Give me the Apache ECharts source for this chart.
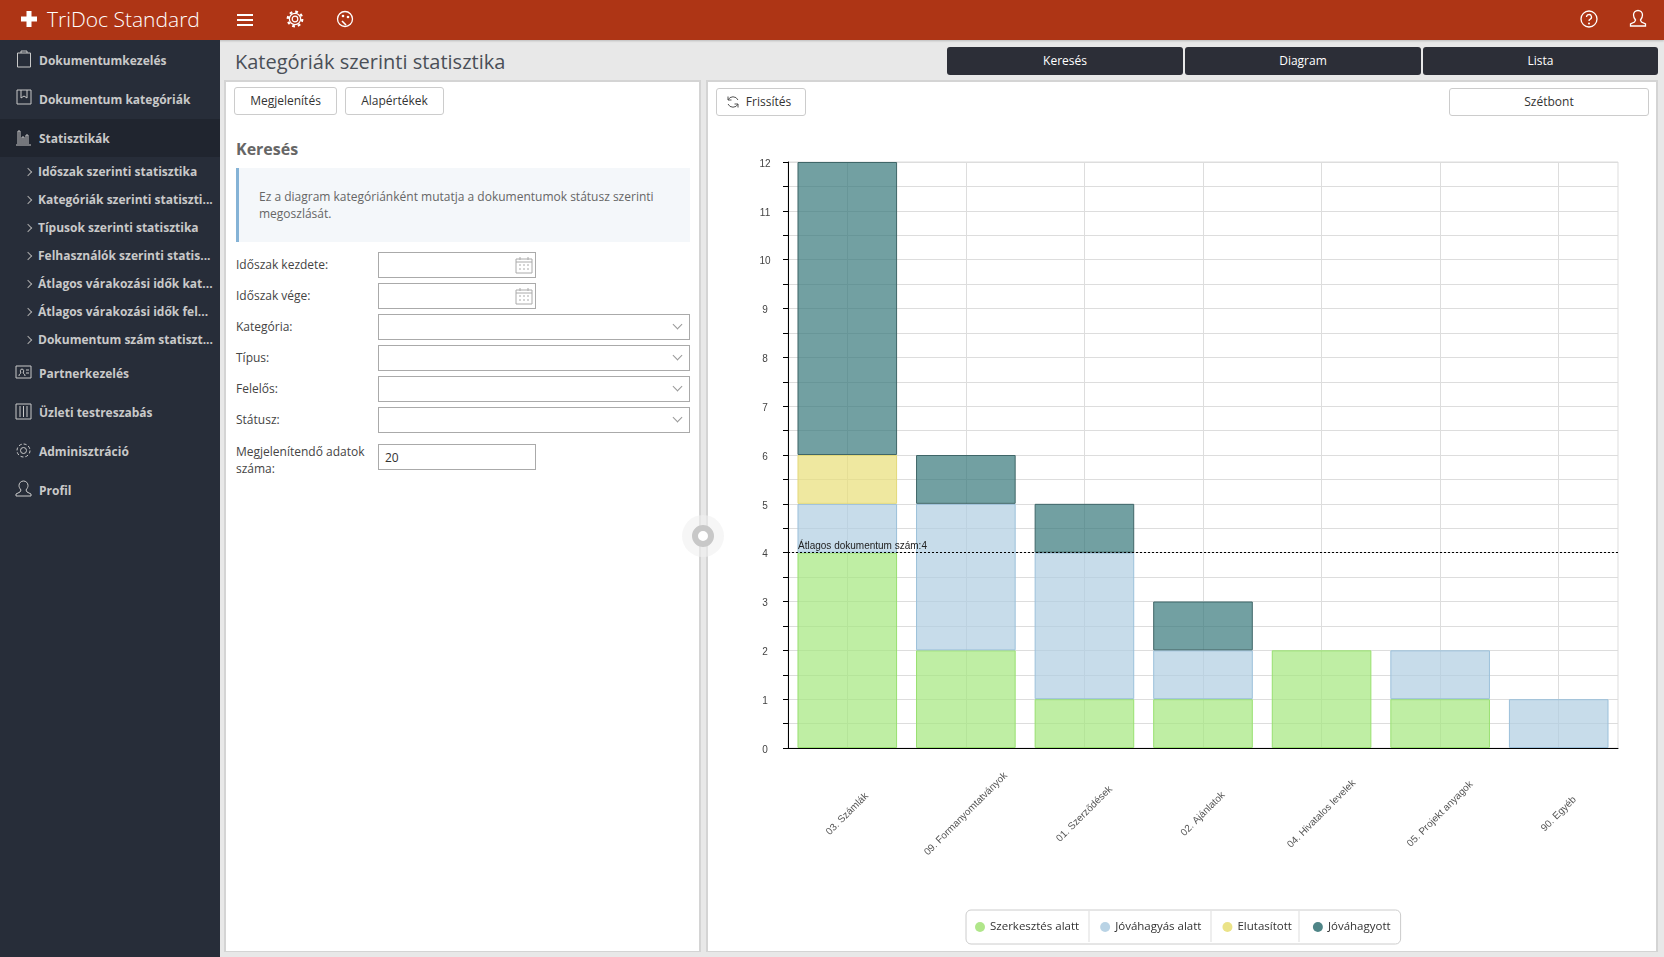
<!DOCTYPE html>
<html lang="hu">
<head>
<meta charset="utf-8">
<title>TriDoc Standard</title>
<script src="https://cdn.jsdelivr.net/npm/echarts@6/dist/echarts.min.js"></script>
<style>
  html, body { margin: 0; padding: 0; width: 1664px; height: 957px; overflow: hidden; background: #e8e8e8; font-family: "Open Sans", sans-serif; color: #444; }
  .abs, .nav, .sub, .label, .input, .btn, .tab { position: absolute; box-sizing: border-box; }
  #header { position: absolute; left: 0; top: 0; width: 1664px; height: 40px; background: #ae3515; box-shadow: 0 1px 2px rgba(0,0,0,.2); }
  #brand { position: absolute; left: 47px; top: 3px; font-size: 21px; line-height: 32px; color: #fff; font-weight: 300; }
  #side { position: absolute; left: 0; top: 40px; width: 220px; height: 917px; background: #272d39; }
  #activeBand { position: absolute; left: 0; top: 119px; width: 220px; height: 38px; background: #20252f; }
  .nav { left: 39px; font-size: 12px; font-weight: 700; line-height: 18px; color: #c9c9c9; white-space: nowrap; }
  .sub { left: 38px; font-size: 12px; font-weight: 700; line-height: 18px; color: #c9c9c9; white-space: nowrap; }
  .sub::before { content: ""; position: absolute; left: -13px; top: 6px; width: 5px; height: 5px; border-top: 1px solid #aaa; border-right: 1px solid #aaa; transform: rotate(45deg); }
  #title { position: absolute; left: 235px; top: 46px; font-size: 20px; line-height: 32px; color: #4a4f57; }
  .tab { top: 47px; height: 28px; width: 236px; background: #2c2e37; border-radius: 3px; color: #fff; font-size: 12px; line-height: 28px; text-align: center; }
  .panel { position: absolute; top: 80px; height: 872px; background: #fff; box-sizing: border-box; border: 2px solid #d4d4d4; border-bottom-width: 1px; }
  .btn { height: 28px; background: #fff; border: 1px solid #ccc; border-radius: 3px; font-size: 12px; line-height: 26px; text-align: center; color: #333; }
  #keres { position: absolute; left: 236px; top: 138px; font-size: 16px; line-height: 22px; font-weight: 700; color: #666; }
  #info { position: absolute; left: 236px; top: 168px; width: 454px; height: 74px; box-sizing: border-box; background: #f4f7fa; border-left: 3px solid #85b3d6; padding: 20px 20px 0 20px; font-size: 12px; line-height: 17px; color: #666; }
  .label { left: 236px; width: 136px; font-size: 12px; line-height: 17px; color: #444; }
  .input { left: 378px; height: 26px; background: #fff; border: 1px solid #aaa; font-size: 12px; line-height: 24px; padding-left: 7px; color: #333; }
  .input.short { width: 158px; }
  .input.long { width: 312px; }
  .cal { position: absolute; right: 2px; top: 3px; }
  .chev { position: absolute; right: 8px; top: 6px; width: 6px; height: 6px; border-right: 1px solid #999; border-bottom: 1px solid #999; transform: rotate(45deg); }
  svg { position: absolute; fill: none; }
  #chart { position: absolute; left: 709px; top: 83px; width: 947px; height: 867px; }
  #knobHalo { position: absolute; left: 682px; top: 515px; width: 42px; height: 42px; border-radius: 50%; background: rgba(240,240,240,.6); }
  #knob { position: absolute; left: 692px; top: 525px; width: 22px; height: 22px; box-sizing: border-box; border-radius: 50%; background: #fff; border: 6px solid #c8c8c8; }
</style>
</head>
<body>
<div id="header">
  <svg style="left:20px;top:10px" width="18" height="18"><path d="M9 1v16M1 9h16" stroke="#fff" stroke-width="5"/></svg>
  <div id="brand">TriDoc Standard</div>
  <svg style="left:237px;top:12px" width="16" height="16"><path d="M0 3h16M0 8h16M0 13h16" stroke="#fff" stroke-width="2"/></svg>
  <svg style="left:286px;top:10px" width="18" height="18"><circle cx="9" cy="9" r="2.800" stroke="#fff" stroke-width="1.200"/><circle cx="9" cy="9" r="5.600" stroke="#fff" stroke-width="1.200"/><circle cx="9" cy="9" r="7.300" stroke="#fff" stroke-width="2.200" stroke-dasharray="2.800 2.930"/></svg>
  <svg style="left:336px;top:10px" width="18" height="18"><circle cx="9" cy="9" r="7.500" stroke="#fff" stroke-width="1.300"/><circle cx="7" cy="6" r="1.300" fill="#fff"/><circle cx="12" cy="7" r="1.300" fill="#fff"/><path d="M6 11l4 4" stroke="#fff" stroke-width="1.600"/></svg>
  <svg style="left:1580px;top:10px" width="18" height="18"><circle cx="9" cy="9" r="8" stroke="#fff" stroke-width="1.300"/><path d="M6.500 7a2.500 2.500 0 1 1 3.500 2.300c-.7.3-1 .8-1 1.700" stroke="#fff" stroke-width="1.300"/><circle cx="9" cy="13.500" r="1" fill="#fff"/></svg>
  <svg style="left:1629px;top:9px" width="18" height="20"><path d="M6.500 11c-1.500-2-2-3.500-2-5a4.500 4.500 0 0 1 9 0c0 1.500-.5 3-2 5l1 2 4 2v2H1.500v-2l4-2z" stroke="#fff" stroke-width="1.300"/></svg>
</div>

<div id="side"></div>
<div id="activeBand"></div>
<svg style="left:16px;top:50px" width="16" height="18"><path d="M1.500 3h13v14h-13zM5 3V1h6v2" stroke="#c9c9c9"/></svg>
<div class="nav" style="top:52px">Dokumentumkezelés</div>
<svg style="left:16px;top:89px" width="16" height="16"><path d="M1 1h14v14H1zM5 1v8l3-2 3 2V1" stroke="#c9c9c9"/></svg>
<div class="nav" style="top:91px">Dokumentum kategóriák</div>
<svg style="left:15px;top:130px" width="17" height="16"><path d="M1 15h15M3 14V1h2v13M7 14V7h2v7M11 14V5h2v9" stroke="#c9c9c9"/></svg>
<div class="nav" style="top:130px">Statisztikák</div>
<div class="sub" style="top:163px">Időszak szerinti statisztika</div>
<div class="sub" style="top:191px">Kategóriák szerinti statiszti...</div>
<div class="sub" style="top:219px">Típusok szerinti statisztika</div>
<div class="sub" style="top:247px">Felhasználók szerinti statis...</div>
<div class="sub" style="top:275px">Átlagos várakozási idők kat...</div>
<div class="sub" style="top:303px">Átlagos várakozási idők fel...</div>
<div class="sub" style="top:331px">Dokumentum szám statiszt...</div>
<svg style="left:15px;top:365px" width="17" height="14"><path d="M1 1h15v12H1zM4 11c0-2 1-2 2-3-1-1-1-4 1-4s2 3 1 4c1 1 2 1 2 3M11 5h3M11 8h3" stroke="#c9c9c9"/></svg>
<div class="nav" style="top:365px">Partnerkezelés</div>
<svg style="left:15px;top:403px" width="17" height="17"><path d="M1 1h15v15H1zM5 3v11M8.500 3v11M12 3v11" stroke="#c9c9c9"/></svg>
<div class="nav" style="top:404px">Üzleti testreszabás</div>
<svg style="left:15px;top:442px" width="17" height="17"><circle cx="8.500" cy="8.500" r="3" stroke="#c9c9c9"/><circle cx="8.500" cy="8.500" r="6.500" stroke="#c9c9c9" stroke-dasharray="3 2"/></svg>
<div class="nav" style="top:443px">Adminisztráció</div>
<svg style="left:15px;top:480px" width="17" height="18"><path d="M6 10c-1.500-2-2-3-2-4.500a4.500 4.500 0 0 1 9 0c0 1.500-.5 2.500-2 4.500l1 2 4 2v2H1v-2l4-2z" stroke="#c9c9c9"/></svg>
<div class="nav" style="top:482px">Profil</div>

<div id="title">Kategóriák szerinti statisztika</div>
<div class="tab" style="left:947px">Keresés</div>
<div class="tab" style="left:1185px">Diagram</div>
<div class="tab" style="left:1423px;width:235px">Lista</div>

<div class="panel" style="left:224px;width:477px"></div>
<div class="btn" style="left:234px;top:87px;width:103px">Megjelenítés</div>
<div class="btn" style="left:345px;top:87px;width:99px">Alapértékek</div>
<div id="keres">Keresés</div>
<div id="info">Ez a diagram kategóriánként mutatja a dokumentumok státusz szerinti megoszlását.</div>

<div class="label" style="top:256px">Időszak kezdete:</div>
<div class="input short" style="top:252px"><svg class="cal" style="left:auto;right:2px;top:3px" width="18" height="18"><path d="M1 3h16v14H1zM1 6h16M5 1v3M13 1v3M4 9h2M8 9h2M12 9h2M4 13h2M8 13h2M12 13h2" stroke="#aaa"/></svg></div>
<div class="label" style="top:287px">Időszak vége:</div>
<div class="input short" style="top:283px"><svg class="cal" style="left:auto;right:2px;top:3px" width="18" height="18"><path d="M1 3h16v14H1zM1 6h16M5 1v3M13 1v3M4 9h2M8 9h2M12 9h2M4 13h2M8 13h2M12 13h2" stroke="#aaa"/></svg></div>
<div class="label" style="top:318px">Kategória:</div>
<div class="input long" style="top:314px"><div class="chev"></div></div>
<div class="label" style="top:349px">Típus:</div>
<div class="input long" style="top:345px"><div class="chev"></div></div>
<div class="label" style="top:380px">Felelős:</div>
<div class="input long" style="top:376px"><div class="chev"></div></div>
<div class="label" style="top:411px">Státusz:</div>
<div class="input long" style="top:407px"><div class="chev"></div></div>
<div class="label" style="top:443px">Megjelenítendő adatok száma:</div>
<div class="input short" style="top:444px;line-height:26px;padding-left:6px">20</div>

<div class="panel" style="left:706px;width:952px"></div>
<div id="chart"></div>
<div class="btn" style="left:716px;top:88px;width:90px;padding-left:15px">Frissítés</div>
<svg style="left:726px;top:95px" width="14" height="14"><path d="M2 5a5.500 5.500 0 0 1 10 0M12 9a5.500 5.500 0 0 1-10 0M2 1.500V5h3.500M12 12.500V9H8.500" stroke="#555"/></svg>
<div class="btn" style="left:1449px;top:88px;width:200px">Szétbont</div>

<div id="knobHalo"></div>
<div id="knob"></div>

<script>
// 图表数据
const categories = ['03. Számlák', '09. Formanyomtatványok', '01. Szerződések', '02. Ajánlatok', '04. Hivatalos levelek', '05. Projekt anyagok', '90. Egyéb'];
const szerkesztes = [4, 2, 1, 1, 2, 1, 0];
const jovahagyas = [1, 3, 3, 1, 0, 1, 1];
const elutasitott = [1, 0, 0, 0, 0, 0, 0];
const jovahagyott = [6, 1, 1, 1, 0, 0, 0];
const atlag = 4;
const maxValue = 12;

const chart = echarts.init(document.getElementById('chart'));

// 0 值不画，否则描边会在堆叠处多出一条线
function stackSeries(name, values, fill, border, extra) {
  return Object.assign({
    name: name,
    type: 'bar',
    stack: 'total',
    barCategoryGap: '16%',
    data: values.map(v => v || null),
    itemStyle: { color: fill, borderColor: border, borderWidth: 1 },
    emphasis: { disabled: true },
  }, extra);
}

chart.setOption({
  animation: false,
  backgroundColor: 'transparent',
  textStyle: { fontFamily: '"Liberation Sans", Arial, sans-serif' },
  grid: { left: 79, top: 79, width: 830, height: 586, show: true, borderColor: '#ddd', borderWidth: 1, backgroundColor: 'transparent' },
  legend: {
    left: 257,
    top: 827,
    padding: [11, 10, 11, 9],
    itemWidth: 10,
    itemHeight: 10,
    itemGap: 21,
    icon: 'circle',
    borderColor: '#ccc',
    borderWidth: 1,
    borderRadius: 5,
    selectedMode: false,
    textStyle: { fontFamily: '"Open Sans", sans-serif', fontSize: 11.5, color: '#333', padding: [3, 0, 0, 0] },
    data: [
      { name: 'Szerkesztés alatt', itemStyle: { color: '#b0e68a', borderWidth: 0 } },
      { name: 'Jóváhagyás alatt', itemStyle: { color: '#b9d3e5', borderWidth: 0 } },
      { name: 'Elutasított', itemStyle: { color: '#ebe388', borderWidth: 0 } },
      { name: 'Jóváhagyott', itemStyle: { color: '#4f8587', borderWidth: 0 } },
    ],
  },
  graphic: [380, 502, 590].map(x => ({
    type: 'line',
    shape: { x1: x, y1: 828, x2: x, y2: 859 },
    style: { stroke: '#ddd', lineWidth: 1 },
    silent: true,
  })),
  xAxis: {
    type: 'category',
    data: categories,
    axisLine: { lineStyle: { color: '#000', width: 1 } },
    axisTick: { alignWithLabel: true, length: 5, lineStyle: { color: '#000' } },
    splitLine: { show: true, alignWithLabel: true, lineStyle: { color: '#ddd', width: 1 } },
    axisLabel: { interval: 0, rotate: 45, align: 'center', verticalAlign: 'middle', margin: 66, fontSize: 10, color: '#555' },
  },
  yAxis: {
    type: 'value',
    min: 0,
    max: maxValue,
    interval: 1,
    axisLine: { show: true, lineStyle: { color: '#000', width: 1 } },
    axisTick: { show: true, length: 5, lineStyle: { color: '#000' } },
    minorTick: { show: true, splitNumber: 2, length: 5, lineStyle: { color: '#000' } },
    splitLine: { show: true, lineStyle: { color: '#ddd', width: 1 } },
    minorSplitLine: { show: true, lineStyle: { color: '#ddd', width: 1 } },
    axisLabel: { align: 'center', verticalAlign: 'top', lineHeight: 4, margin: 23, fontSize: 10, color: '#444' },
  },
  series: [
    stackSeries('Szerkesztés alatt', szerkesztes, 'rgba(164,231,126,.7)', '#98e070'),
    stackSeries('Jóváhagyás alatt', jovahagyas, 'rgba(175,205,225,.7)', '#9cc0da'),
    stackSeries('Elutasított', elutasitott, 'rgba(232,222,119,.7)', '#e3d97a'),
    stackSeries('Jóváhagyott', jovahagyott, 'rgba(54,119,122,.7)', '#3f6668', {
      markLine: {
        silent: true,
        symbol: 'none',
        animation: false,
        data: [{ yAxis: atlag }],
        lineStyle: { color: '#000', type: [2, 2], width: 1 },
        label: { position: 'insideStartTop', distance: [10, 1], formatter: 'Átlagos dokumentum szám:' + atlag, fontSize: 10, color: '#222' },
      },
    }),
  ],
});
</script>
</body>
</html>
